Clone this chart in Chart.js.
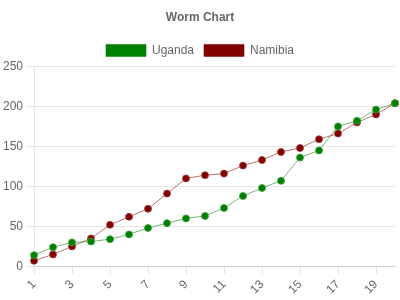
<!DOCTYPE html>
<html>
<head>
<meta charset="utf-8">
<script src="https://cdn.jsdelivr.net/npm/chart.js@4"></script>
<style>
  body { margin: 0; background: #fff; }
  #wrap { width: 400px; height: 300px; }
</style>
</head>
<body>
<div id="wrap"><canvas id="worm"></canvas></div>
<script>
var overs = [1, 2, 3, 4, 5, 6, 7, 8, 9, 10, 11, 12, 13, 14, 15, 16, 17, 18, 19, 20];
var uganda = [14, 24, 30, 31, 34, 40, 48, 54, 60, 63, 73, 88, 98, 107, 136, 145, 175, 182, 196, 204];
var namibia = [7, 15, 25, 35, 52, 62, 72, 91, 110, 114, 116, 126, 133, 143, 148, 159, 166, 180, 190, 204];

Chart.defaults.font.family = "'Liberation Sans', Arial, sans-serif";
Chart.defaults.font.size = 12;
Chart.defaults.color = "#666";

new Chart(document.getElementById("worm"), {
  type: "line",
  data: {
    labels: overs,
    datasets: [
      {
        label: "Uganda",
        data: uganda,
        backgroundColor: "#008000",
        borderColor: "rgba(0, 128, 0, 0.55)",
        pointBorderColor: "rgba(60, 160, 60, 0.8)",
        borderWidth: 1,
        pointRadius: 3.5,
        pointBorderWidth: 1,
        fill: false,
      },
      {
        label: "Namibia",
        data: namibia,
        backgroundColor: "#800000",
        borderColor: "rgba(128, 0, 0, 0.55)",
        pointBorderColor: "rgba(160, 60, 60, 0.8)",
        borderWidth: 1,
        pointRadius: 3.5,
        pointBorderWidth: 1,
        fill: false,
      },
    ],
  },
  options: {
    responsive: true,
    maintainAspectRatio: false,
    animation: false,
    plugins: {
      title: {
        display: true,
        text: "Worm Chart",
        font: { size: 12, weight: "bold" },
        padding: { top: 10, bottom: 10 },
      },
      legend: {
        labels: { boxWidth: 40, boxHeight: 12 },
      },
    },
    scales: {
      x: {
        grid: { drawOnChartArea: false, tickLength: 8 },
        ticks: { maxRotation: 45, minRotation: 45, autoSkip: true, maxTicksLimit: 10 },
      },
      y: {
        min: 0,
        max: 250,
        ticks: { stepSize: 50 },
        grid: { tickLength: 8 },
      },
    },
  },
});
</script>
</body>
</html>
